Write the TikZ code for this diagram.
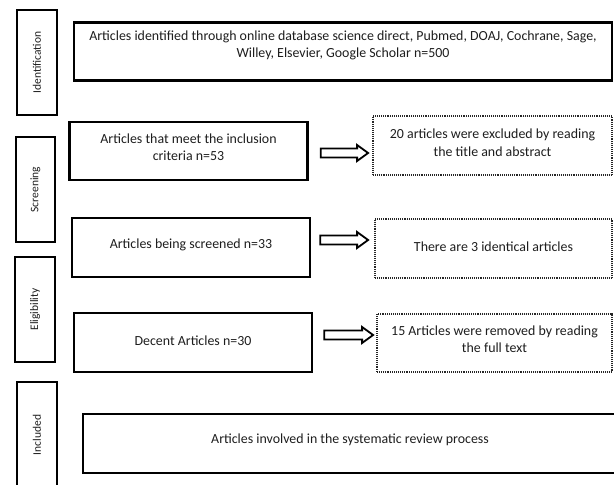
\documentclass[tikz,border=0pt]{standalone}
\usepackage{fontspec}
\setmainfont{Carlito}
\usetikzlibrary{calc}
\definecolor{txt}{RGB}{30,30,30}
\begin{document}
\begin{tikzpicture}[x=1pt,y=-1pt,
  every node/.style={font=\fontsize{13.9}{17.5}\selectfont, text=txt},
  solidbox/.style={draw=black, line width=2.6pt, fill=white, align=center, inner sep=0pt},
  dotbox/.style={draw=black!85, line width=1.8pt, dash pattern=on 1pt off 0.9pt, fill=white, align=center, inner sep=0pt},
  stagebox/.style={draw=black, line width=2.6pt, fill=white, rotate=90, inner sep=0pt, font=\fontsize{11.5}{13}\selectfont},
  boxtext/.style={align=center, inner sep=0pt},
  blockarrow/.style={draw=black, line width=1.8pt, fill=white, line join=miter}]
\clip (0,0) rectangle (614,485);
\fill[white] (0,0) rectangle (614,485);

% stage labels
\node[stagebox, minimum width=105, minimum height=40] (id) at (37,62.5) {Identification};
\node[stagebox, minimum width=105, minimum height=39] (scr) at (35.5,189.5) {Screening};
\node[stagebox, minimum width=105, minimum height=40] (eli) at (35,309.5) {Eligibility};
\node[stagebox, minimum width=106, minimum height=40] (inc) at (37,435) {Included};

% main boxes
\node[solidbox, minimum width=538, minimum height=58] (top) at (343,51.5) {};
\node[boxtext] (toptext) at ($(top.center)+(0,-6)$)
  {Articles identified through online database science direct, Pubmed, DOAJ, Cochrane, Sage,\\Willey, Elsevier, Google Scholar n=500};
\node[solidbox, minimum width=238, minimum height=58] (s1) at (188.5,151) {};
\node[boxtext] (s1text) at ($(s1.center)+(0,-4)$)
  {Articles that meet the inclusion\\criteria n=53};
\node[solidbox, minimum width=238, minimum height=59] (s2) at (191,247.5) {};
\node[boxtext] (s2text) at ($(s2.center)+(0,-3)$) {Articles being screened n=33};
\node[solidbox, minimum width=238, minimum height=59] (e) at (193,342.5) {};
\node[boxtext] (etext) at ($(e.center)+(0,-2)$) {Decent Articles n=30};
\node[solidbox, minimum width=534, minimum height=59] (inc2) at (350,443.5) {};
\node[boxtext] (inc2text) at ($(inc2.center)+(0,-4)$) {Articles involved in the systematic review process};

% excluded boxes
\node[dotbox, minimum width=239, minimum height=59] (d1) at (492.5,145.5) {};
\node[boxtext] (d1text) at ($(d1.center)+(0,-3)$)
  {20 articles were excluded by reading\\the title and abstract};
\node[dotbox, minimum width=237, minimum height=59] (d2) at (493.5,248.5) {};
\node[boxtext] (d2text) at ($(d2.center)+(0,-2)$) {There are 3 identical articles};
\node[dotbox, minimum width=235, minimum height=58] (d3) at (494.5,343) {};
\node[boxtext] (d3text) at ($(d3.center)+(0,-4)$)
  {15 Articles were removed by reading\\the full text};

% arrows
\coordinate (a1s) at ($(s1.east)+(12,2)$);
\coordinate (a1e) at ($(a1s -| d1.west)+(-4,0)$);
\coordinate (a2s) at ($(s2.east)+(9,-7.5)$);
\coordinate (a2e) at ($(a2s -| d2.west)+(-6,0)$);
\coordinate (a3s) at ($(e.east)+(11,-7.5)$);
\coordinate (a3e) at ($(a3s -| d3.west)+(-3,0)$);
\foreach \s/\e in {a1s/a1e, a2s/a2e, a3s/a3e}{
  \draw[blockarrow] ($(\s)+(0,4.5)$) -- ($(\e)+(-11,4.5)$) -- ($(\e)+(-11,8)$) -- (\e)
    -- ($(\e)+(-11,-8)$) -- ($(\e)+(-11,-4.5)$) -- ($(\s)+(0,-4.5)$) -- cycle;
}
\end{tikzpicture}
\end{document}
